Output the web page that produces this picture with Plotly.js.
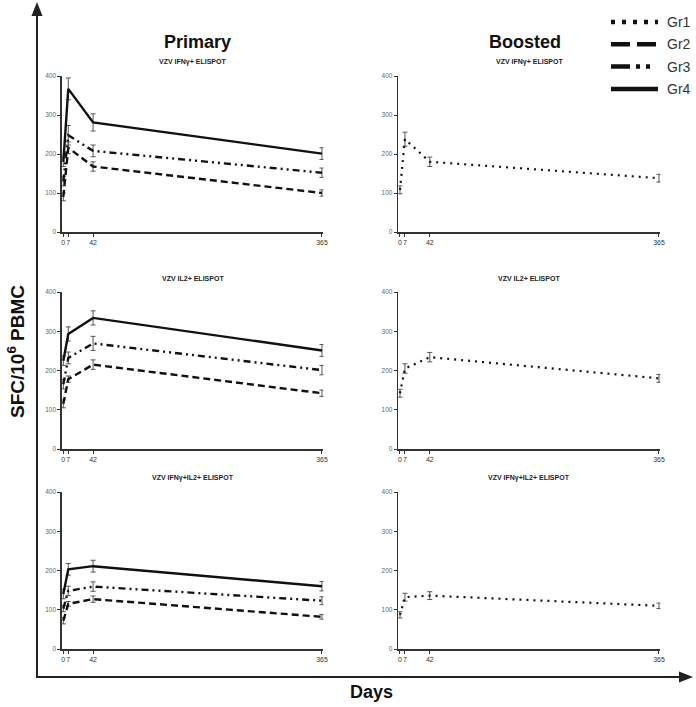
<!DOCTYPE html>
<html>
<head>
<meta charset="utf-8">
<script src="https://cdn.plot.ly/plotly-3.0.1.min.js"></script>
<style>html,body{margin:0;padding:0;background:#fff;}#chart{width:696px;height:707px;}</style>
</head>
<body>
<div id="chart"></div>
<script>
// ---- data ----
const days = [0, 7, 42, 365];
const dayLabels = ['0', '7', '42', '365'];
const groupNames = ['Gr1', 'Gr2', 'Gr3', 'Gr4'];
const panelTitles = ['VZV IFNγ+ ELISPOT', 'VZV IL2+ ELISPOT', 'VZV IFNγ+IL2+ ELISPOT'];
const columnTitles = ['Primary', 'Boosted'];
const yTicks = [0, 100, 200, 300, 400];

// IFNγ+
const ifnGr1 = [108, 238, 180, 138];  const ifnGr1Err = [10, 18, 12, 10];
const ifnGr2 = [90, 216, 168, 100];   const ifnGr2Err = [10, 15, 12, 8];
const ifnGr3 = [130, 248, 208, 152];  const ifnGr3Err = [12, 25, 15, 12];
const ifnGr4 = [180, 367, 281, 201];  const ifnGr4Err = [12, 28, 22, 15];
// IL2+
const il2Gr1 = [142, 205, 234, 180];  const il2Gr1Err = [10, 12, 12, 10];
const il2Gr2 = [115, 178, 215, 142];  const il2Gr2Err = [10, 8, 12, 8];
const il2Gr3 = [165, 232, 269, 201];  const il2Gr3Err = [12, 15, 18, 12];
const il2Gr4 = [225, 293, 334, 251];  const il2Gr4Err = [12, 18, 18, 15];
// IFNγ+IL2+
const dualGr1 = [87, 132, 136, 110];  const dualGr1Err = [8, 10, 10, 7];
const dualGr2 = [72, 115, 127, 82];   const dualGr2Err = [8, 6, 8, 6];
const dualGr3 = [103, 148, 159, 123]; const dualGr3Err = [8, 12, 12, 10];
const dualGr4 = [140, 203, 211, 160]; const dualGr4Err = [12, 15, 15, 12];

// ---- styling ----
const W = 696, H = 707;
const px = v => v / W;
const py = v => 1 - v / H;
const FONT = 'Liberation Sans, Arial, sans-serif';
const lineStyles = {
  Gr1: {color: '#111', width: 2.2, dash: '2px,5px'},
  Gr2: {color: '#111', width: 2.4, dash: '7px,4px'},
  Gr3: {color: '#111', width: 2.4, dash: '7px,4px,2px,4px,2px,4px'},
  Gr4: {color: '#111', width: 2.4, dash: 'solid'}
};
const legendDash = {Gr1: '4px,7px', Gr2: '19px,7px', Gr3: '19px,6px,4px,6px,4px,9px', Gr4: 'solid'};

function trace(name, y, err, idx) {
  return {
    type: 'scatter', mode: 'lines', name: name, x: days, y: y,
    xaxis: 'x' + (idx === 1 ? '' : idx), yaxis: 'y' + (idx === 1 ? '' : idx),
    line: Object.assign({}, lineStyles[name]),
    error_y: {type: 'data', array: err, visible: true, color: '#555', thickness: 1, width: 2.5},
    cliponaxis: false, showlegend: false
  };
}

const traces = [
  trace('Gr2', ifnGr2, ifnGr2Err, 1), trace('Gr3', ifnGr3, ifnGr3Err, 1), trace('Gr4', ifnGr4, ifnGr4Err, 1),
  trace('Gr1', ifnGr1, ifnGr1Err, 2),
  trace('Gr2', il2Gr2, il2Gr2Err, 3), trace('Gr3', il2Gr3, il2Gr3Err, 3), trace('Gr4', il2Gr4, il2Gr4Err, 3),
  trace('Gr1', il2Gr1, il2Gr1Err, 4),
  trace('Gr2', dualGr2, dualGr2Err, 5), trace('Gr3', dualGr3, dualGr3Err, 5), trace('Gr4', dualGr4, dualGr4Err, 5),
  trace('Gr1', dualGr1, dualGr1Err, 6)
];

const colX = [[61.9, 323.4], [398.2, 660.4]];
const colRange = [[-2, 367], [-2.5, 367]];
const rowY = [[232, 76], [449, 292], [649, 492]];
const layout = {
  width: W, height: H, margin: {l: 0, r: 0, t: 0, b: 0},
  paper_bgcolor: '#fff', plot_bgcolor: 'rgba(0,0,0,0)',
  font: {family: FONT, color: '#222'},
  showlegend: false,
  annotations: [], shapes: []
};
for (let r = 0; r < 3; r++) {
  for (let c = 0; c < 2; c++) {
    const idx = r * 2 + c + 1;
    const sfx = idx === 1 ? '' : idx;
    layout['xaxis' + sfx] = {
      domain: [px(colX[c][0]), px(colX[c][1])], range: colRange[c], anchor: 'y' + sfx,
      tickmode: 'array', tickvals: days, ticktext: dayLabels, tickangle: 0,
      showgrid: false, zeroline: false, showline: true, linecolor: '#333', linewidth: 1.5,
      ticks: 'outside', ticklen: 3, tickwidth: 1, tickcolor: '#333',
      tickfont: {size: 7, color: '#333', family: FONT}, fixedrange: true
    };
    layout['yaxis' + sfx] = {
      domain: [py(rowY[r][0]), py(rowY[r][1])], range: [0, 400], anchor: 'x' + sfx,
      tickmode: 'array', tickvals: yTicks,
      showgrid: false, zeroline: false, showline: true, linecolor: '#333', linewidth: 1.5,
      ticks: 'outside', ticklen: 3, tickwidth: 1, tickcolor: '#333',
      tickfont: {size: 6.5, color: '#666', family: FONT}, fixedrange: true
    };
    layout.annotations.push({
      text: '<b>' + panelTitles[r] + '</b>', xref: 'paper', yref: 'paper',
      x: px((colX[c][0] + colX[c][1]) / 2), y: py(rowY[r][1] - 8), yanchor: 'bottom', xanchor: 'center',
      showarrow: false, font: {size: 7, color: '#222', family: FONT}
    });
  }
}
columnTitles.forEach((t, c) => {
  layout.annotations.push({
    text: '<b>' + t + '</b>', xref: 'paper', yref: 'paper',
    x: px(c === 0 ? 197 : 525), y: py(42), xanchor: 'center', yanchor: 'middle',
    showarrow: false, font: {size: 18, color: '#111', family: FONT}
  });
});
layout.annotations.push({
  text: '<b>SFC/10<sup>6</sup> PBMC</b>', xref: 'paper', yref: 'paper', x: px(16), y: py(352),
  textangle: -90, showarrow: false, xanchor: 'center', yanchor: 'middle',
  font: {size: 19, color: '#111', family: FONT}
});
layout.annotations.push({
  text: '<b>Days</b>', xref: 'paper', yref: 'paper', x: px(371), y: py(692),
  showarrow: false, xanchor: 'center', yanchor: 'middle',
  font: {size: 18, color: '#111', family: FONT}
});

// legend (drawn manually for sample length/thickness)
groupNames.forEach((g, i) => {
  const yy = 22 + i * 22.3;
  layout.shapes.push({
    type: 'line', xref: 'paper', yref: 'paper', x0: px(611), x1: px(658), y0: py(yy), y1: py(yy),
    line: {color: '#111', width: 4.5, dash: legendDash[g]}
  });
  layout.annotations.push({
    text: g, xref: 'paper', yref: 'paper', x: px(666), y: py(yy), xanchor: 'left', yanchor: 'middle',
    showarrow: false, borderpad: 0, font: {size: 14, color: '#333', family: FONT}
  });
});

// big frame axes with arrowheads
layout.shapes.push({type: 'line', xref: 'paper', yref: 'paper', x0: px(37), x1: px(37), y0: py(677), y1: py(12),
  line: {color: '#222', width: 2}});
layout.shapes.push({type: 'line', xref: 'paper', yref: 'paper', x0: px(36), x1: px(682), y0: py(677), y1: py(677),
  line: {color: '#222', width: 2}});
layout.shapes.push({type: 'path', xref: 'paper', yref: 'paper', fillcolor: '#222', line: {width: 0},
  path: `M ${px(37)} ${py(2)} L ${px(31.5)} ${py(16)} L ${px(42.5)} ${py(16)} Z`});
layout.shapes.push({type: 'path', xref: 'paper', yref: 'paper', fillcolor: '#222', line: {width: 0},
  path: `M ${px(693)} ${py(677)} L ${px(679)} ${py(671.5)} L ${px(679)} ${py(682.5)} Z`});

Plotly.newPlot('chart', traces, layout, {displayModeBar: false, staticPlot: true});
</script>
</body>
</html>
